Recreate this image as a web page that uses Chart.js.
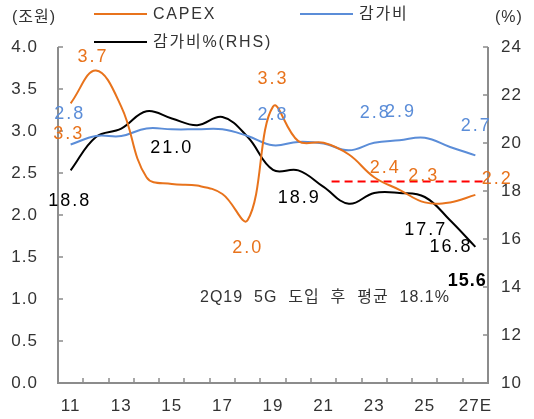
<!DOCTYPE html>
<html>
<head>
<meta charset="utf-8">
<script src="https://cdn.jsdelivr.net/npm/chart.js@4/dist/chart.umd.min.js"></script>
<style>
    html, body { margin: 0; padding: 0; background: #fff; }
</style>
</head>
<body>
<canvas id="chart" width="534" height="419"></canvas>
<script>
// data
const categories = ['11', '12', '13', '14', '15', '16', '17', '18', '19', '20', '21', '22', '23', '24', '25', '26', '27E'];
const capex = [3.33, 3.72, 3.29, 2.45, 2.37, 2.35, 2.25, 1.94, 3.29, 2.88, 2.86, 2.72, 2.45, 2.30, 2.15, 2.15, 2.24];
const depreciation = [2.84, 2.94, 2.94, 3.03, 3.02, 3.02, 3.02, 2.94, 2.83, 2.87, 2.85, 2.77, 2.86, 2.89, 2.92, 2.81, 2.71];
const depRatio = [18.86, 20.25, 20.6, 21.32, 21.02, 20.74, 21.08, 20.25, 18.88, 18.86, 18.17, 17.47, 17.92, 17.92, 17.75, 16.78, 15.67];

// printed value labels (by category)
const capexLabels = ['3.3', '3.7', null, null, null, null, null, '2.0', '3.3', null, null, null, '2.4', null, '2.3', null, '2.2'];
const depLabels = ['2.8', null, null, null, null, null, null, null, '2.8', null, null, null, '2.8', '2.9', null, null, '2.7'];
const ratioLabels = ['18.8', null, null, null, '21.0', null, null, null, null, '18.9', null, null, null, null, '17.7', '16.8', '15.6'];

const leftTicks = [0, 4, 0.5];      // min, max, step
const rightTicks = [10, 24, 2];
const avgRatio = 18.4;              // dashed average line (RHS)
const avgStartIndex = 10;
const avgText = '2Q19  5G  도입  후  평균  18.1%';

const FONT = "'Liberation Sans', 'Noto Sans CJK KR', sans-serif";
const ORANGE = '#E8731C';
const BLUE = '#5B8DD8';
const BLACK = '#000000';
const TEXT = '#333333';
const AXIS = '#8c8c8c';

// label placement relative to the point (px)
const labelOffsets = {
    capex: { 0: [-3, 31], 1: [-4, -13], 7: [-1, 28], 8: [-1, -28], 12: [10, -9], 14: [-2, -26], 16: [21, -16] },
    dep: { 0: [-2, -30], 8: [-1, -30], 12: [0, -30], 13: [0, -28], 16: [0, -29] },
    ratio: { 0: [-2, 31], 4: [-1, 30], 9: [0, 28], 14: [0, 33], 15: [0, 27], 16: [-9, 34] }
};

const axisPlugin = {
    id: 'axisPlugin',
    beforeDraw(chart) {
        // the reference font is set a little wider
        chart.ctx.letterSpacing = '1px';
    },
    beforeDatasetsDraw(chart) {
        const { ctx, chartArea: ca, scales } = chart;
        ctx.save();
        ctx.strokeStyle = AXIS;
        ctx.lineWidth = 2;
        ctx.beginPath();
        ctx.moveTo(ca.left, ca.top);
        ctx.lineTo(ca.left, ca.bottom);
        ctx.lineTo(ca.right, ca.bottom);
        ctx.lineTo(ca.right, ca.top);
        ctx.stroke();

        ctx.lineWidth = 1.5;
        ctx.beginPath();
        scales.y.ticks.forEach(t => {
            const y = Math.round(scales.y.getPixelForValue(t.value));
            ctx.moveTo(ca.left, y);
            ctx.lineTo(ca.left + 5, y);
        });
        scales.y2.ticks.forEach(t => {
            const y = Math.round(scales.y2.getPixelForValue(t.value));
            ctx.moveTo(ca.right, y);
            ctx.lineTo(ca.right - 5, y);
        });
        const step = (ca.right - ca.left) / categories.length;
        for (let i = 1; i < categories.length; i++) {
            const x = Math.round(ca.left + i * step);
            ctx.moveTo(x, ca.bottom);
            ctx.lineTo(x, ca.bottom - 5);
        }
        ctx.stroke();

        // average line
        const yAvg = scales.y2.getPixelForValue(avgRatio);
        ctx.strokeStyle = '#FF0000';
        ctx.lineWidth = 2;
        ctx.setLineDash([8, 5]);
        ctx.beginPath();
        ctx.moveTo(scales.x.getPixelForValue(avgStartIndex) + 8, yAvg);
        ctx.lineTo(ca.right, yAvg);
        ctx.stroke();
        ctx.restore();
    },
    afterDatasetsDraw(chart) {
        const { ctx, scales } = chart;
        ctx.save();
        ctx.textAlign = 'center';
        ctx.textBaseline = 'middle';

        const drawSet = (labels, values, scale, offsets, color) => {
            labels.forEach((txt, i) => {
                if (!txt) return;
                const off = offsets[i] || [0, -20];
                const x = scales.x.getPixelForValue(i) + off[0] + 1;
                const y = scale.getPixelForValue(values[i]) + off[1];
                const bold = txt === '15.6';
                ctx.fillStyle = color;
                ctx.letterSpacing = bold ? '1px' : '2px';
                ctx.font = (bold ? 'bold ' : '') + '18px ' + FONT;
                ctx.fillText(txt, x, y);
            });
        };
        drawSet(capexLabels, capex, scales.y, labelOffsets.capex, ORANGE);
        drawSet(depLabels, depreciation, scales.y, labelOffsets.dep, BLUE);
        drawSet(ratioLabels, depRatio, scales.y2, labelOffsets.ratio, BLACK);

        // annotation + axis units
        ctx.fillStyle = TEXT;
        ctx.textAlign = 'left';
        ctx.letterSpacing = '1px';
        ctx.font = '16px ' + FONT;
        ctx.fillText(avgText, 200, 298);
        ctx.fillText('(조원)', 12, 18);
        ctx.fillText('(%)', 495, 18);

        // legend
        const legend = [
            { x: 94, y: 14, color: ORANGE, text: 'CAPEX' },
            { x: 300, y: 14, color: BLUE, text: '감가비' },
            { x: 94, y: 42, color: BLACK, text: '감가비%(RHS)' }
        ];
        ctx.letterSpacing = '1.8px';
        legend.forEach(l => {
            ctx.strokeStyle = l.color;
            ctx.lineWidth = 2;
            ctx.beginPath();
            ctx.moveTo(l.x, l.y);
            ctx.lineTo(l.x + 53, l.y);
            ctx.stroke();
            ctx.fillStyle = TEXT;
            ctx.fillText(l.text, l.x + 59, l.y + 1);
        });
        ctx.restore();
    }
};

new Chart(document.getElementById('chart'), {
    type: 'line',
    data: {
        labels: categories,
        datasets: [
            { label: 'CAPEX', data: capex, borderColor: ORANGE, yAxisID: 'y' },
            { label: '감가비', data: depreciation, borderColor: BLUE, yAxisID: 'y' },
            { label: '감가비%(RHS)', data: depRatio, borderColor: BLACK, yAxisID: 'y2' }
        ]
    },
    options: {
        responsive: false,
        animation: false,
        layout: { padding: { top: 47, left: 0, right: 0, bottom: 0 } },
        elements: {
            line: { borderWidth: 2, tension: 0.4, fill: false },
            point: { radius: 0 }
        },
        plugins: { legend: { display: false }, tooltip: { enabled: false } },
        scales: {
            x: {
                offset: true,
                grid: { display: false, drawTicks: false },
                border: { display: false },
                ticks: {
                    autoSkip: false, maxRotation: 0, padding: 13, color: TEXT,
                    font: { family: FONT, size: 17 },
                    callback: (v, i) => (i % 2 === 0 ? categories[i] : '')
                },
                afterFit: s => { s.height = 36; }
            },
            y: {
                position: 'left',
                min: leftTicks[0], max: leftTicks[1],
                grid: { display: false, drawTicks: false },
                border: { display: false },
                ticks: {
                    stepSize: leftTicks[2], padding: 20, color: TEXT,
                    font: { family: FONT, size: 17 },
                    callback: v => v.toFixed(1)
                },
                afterFit: s => { s.width = 58; }
            },
            y2: {
                position: 'right',
                min: rightTicks[0], max: rightTicks[1],
                grid: { display: false, drawTicks: false },
                border: { display: false },
                ticks: {
                    stepSize: rightTicks[2], padding: 13, color: TEXT,
                    font: { family: FONT, size: 17 }
                },
                afterFit: s => { s.width = 46; }
            }
        }
    },
    plugins: [axisPlugin]
});
</script>
</body>
</html>
